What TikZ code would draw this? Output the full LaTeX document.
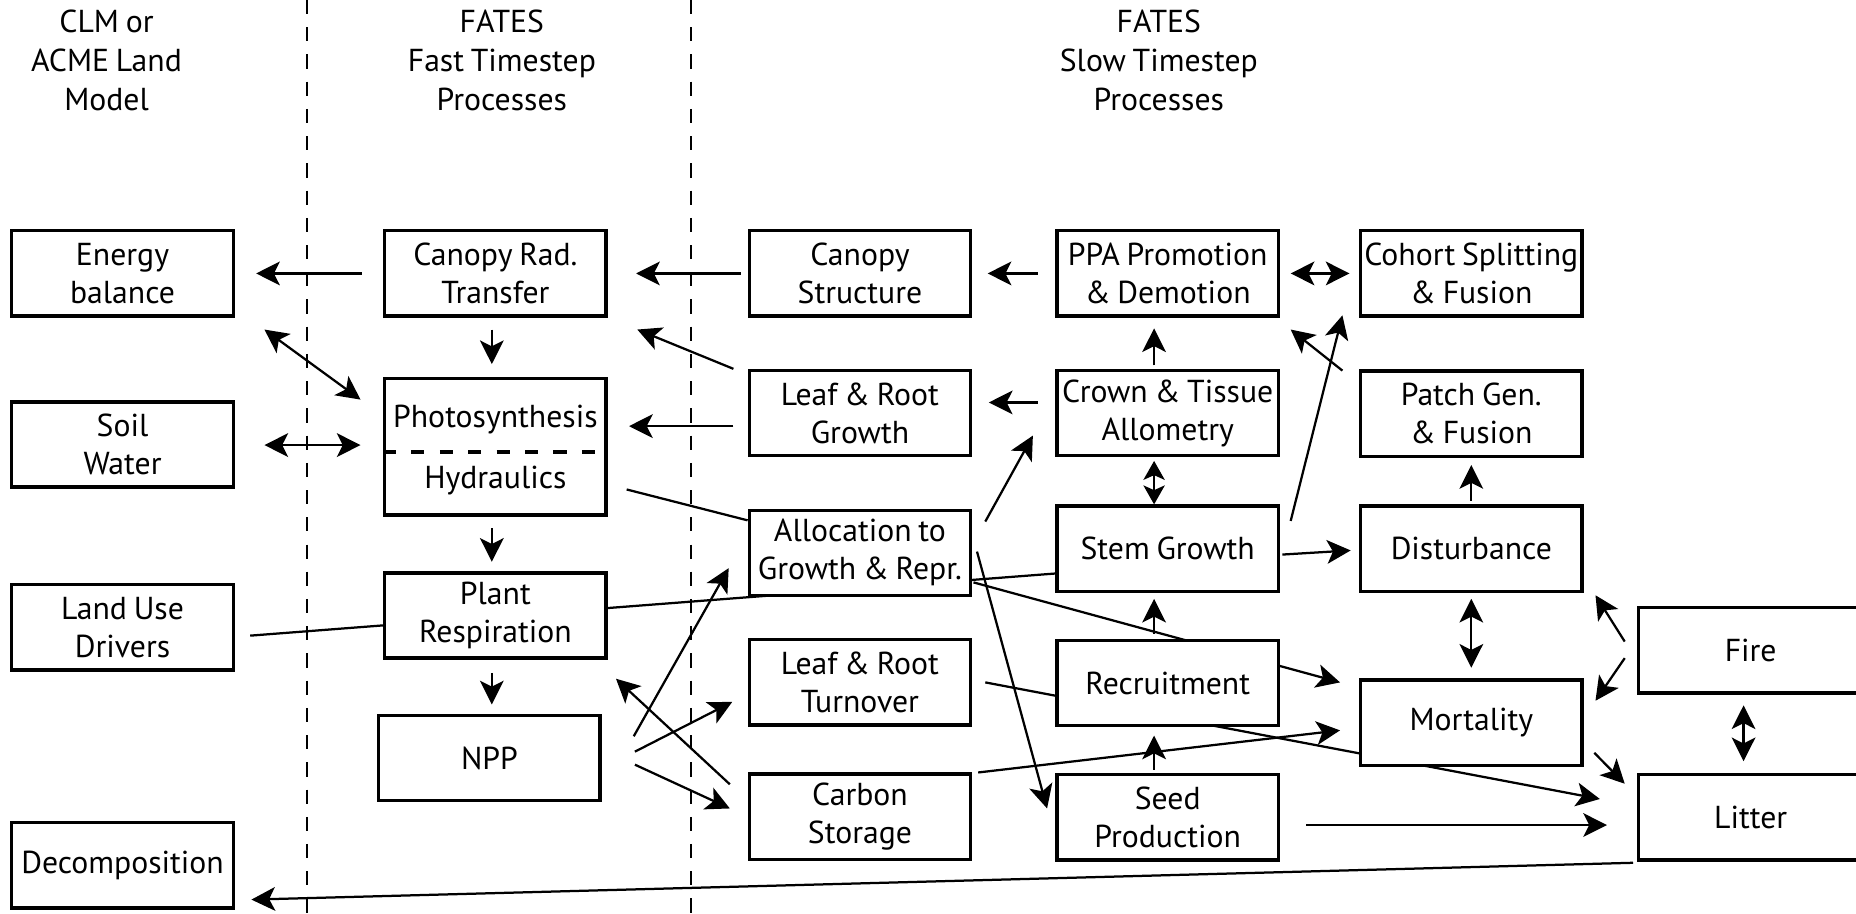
\documentclass[tikz,border=0pt]{standalone}
\usepackage{fontspec}
\setmainfont[WordSpace=0.8]{PT Sans}
\usetikzlibrary{arrows.meta,calc}
\pgfdeclarelayer{bg}
\pgfsetlayers{bg,main}

\begin{document}
\begin{tikzpicture}[x=1pt,y=-1pt,
  box/.style={draw, line width=2.8pt, fill=white, minimum width=187pt,
    minimum height=72pt, inner sep=0pt, align=center,
    font=\fontsize{26.8}{32}\selectfont},
  boxtext/.style={inner sep=0pt, font=\fontsize{26.8}{32}\selectfont},
  head/.style={align=center, inner sep=0pt, font=\fontsize{26.8}{33}\selectfont},
  tip/.tip={Stealth[length=20pt,width=20pt,inset=5pt]},
  smalltip/.tip={Stealth[length=16pt,width=18pt,inset=4pt]},
  arr/.style={line width=1.9pt, -tip},
  darr/.style={line width=1.9pt, tip-tip},
  sdarr/.style={line width=1.9pt, smalltip-smalltip},
  link/.style={line width=1.9pt},
  sep/.style={line width=1.7pt, dash pattern=on 12pt off 11pt},
  divider/.style={line width=3.2pt, dash pattern=on 11pt off 13pt}
]
\useasboundingbox (0,0) rectangle (1568,772);
\clip (0,0) rectangle (1568,772);

% column headings
\node[head] (hclm)  at (90,51)  {CLM or\\ACME Land\\Model};
\node[head] (hfast) at (424,51) {FATES\\Fast Timestep\\Processes};
\node[head] (hslow) at (979,51) {FATES\\Slow Timestep\\Processes};

% host land model
\node[box] (energy)  at (103.5,231)   {Energy\\balance};
\node[box] (soil)    at (103.5,375.5) {Soil\\Water};
\node[box] (landuse) at (103.5,530)   {Land Use\\Drivers};
\node[box] (decomp)  at (103.5,731)   {Decomposition};

% fast timestep processes
\node[box] (canrad) at (418.5,231) {Canopy Rad.\\Transfer};
\node[box, minimum height=115pt] (photo) at (418.5,377.5) {};
\node[boxtext] (photoA) at (418.5,354) {Photosynthesis};
\node[boxtext] (hydrB)  at (418.5,406) {Hydraulics};
\draw[divider] ($(photo.west)+(0,4.5)$) -- ($(photo.east)+(0,4.5)$);
\node[box] (plantresp) at (418.5,520)   {Plant\\Respiration};
\node[box] (npp)       at (413.5,640.5) {NPP};

% slow timestep processes
\node[box] (canstruct) at (726.5,231)   {Canopy\\Structure};
\node[box] (lrgrowth)  at (726.5,349)   {Leaf \& Root\\Growth};
\node[box] (alloc)     at (726.5,467)   {Allocation to\\Growth \& Repr.};
\node[box] (lrturn)    at (726.5,576.5) {Leaf \& Root\\Turnover};
\node[box] (cstore)    at (726.5,690)   {Carbon\\Storage};

\node[box] (ppa)     at (986.5,231)   {PPA Promotion\\\& Demotion};
\node[box] (crown)   at (986.5,349)   {Crown \& Tissue\\Allometry};
\node[box] (stem)    at (986.5,463.5) {Stem Growth};
\node[box] (recruit) at (986.5,577)   {Recruitment};
\node[box] (seed)    at (986.5,690.5) {Seed\\Production};

\node[box] (cohort)  at (1243,231)   {Cohort Splitting\\\& Fusion};
\node[box] (patch)   at (1243,349.5) {Patch Gen.\\\& Fusion};
\node[box] (disturb) at (1243,463.5) {Disturbance};
\node[box] (mort)    at (1243,610.5) {Mortality};

\node[box, minimum width=190pt] (fire)   at (1479,549.5) {Fire};
\node[box, minimum width=190pt] (litter) at (1479,690.5) {Litter};

\begin{pgfonlayer}{bg}
% separators between model components
\draw[sep] (259,0) -- (259,772);
\draw[sep] (584,0) -- (584,772);

% radiation and canopy
\draw[arr] ($(canrad.west)+(-18,0)$) -- ($(energy.east)+(18,0)$);
\draw[arr] ($(canstruct.west)+(-6,0)$) -- ($(canrad.east)+(24,0)$);
\draw[arr] ($(ppa.west)+(-15,0)$) -- ($(canstruct.east)+(13,0)$);
\draw[darr] ($(ppa.east)+(9,0)$) -- ($(cohort.west)+(-8,0)$);
\draw[darr] ($(energy.south east)+(25,10)$) -- ($(photo.north west)+(-19,19)$);
\draw[arr] ($(canrad.south)+(-3,10)$) -- ($(photo.north)+(-3,-11)$);
\draw[arr] ($(lrgrowth.north west)+(-12,0)$) -- ($(canrad.south east)+(25,10)$);
\draw[arr] ($(lrgrowth.west)+(-12,11)$) -- ($(photo.east)+(18,-17.5)$);
\draw[arr] ($(crown.west)+(-15,-9)$) -- ($(lrgrowth.east)+(14,-9)$);
\draw[arr] ($(crown.north)+(-11.5,-3)$) -- ($(ppa.south)+(-11.5,9)$);
\draw[darr] ($(soil.east)+(25,0.5)$) -- ($(photo.west)+(-19,-1.5)$);

% carbon flow
\draw[link] ($(photo.east)+(16,36)$) -- ($(alloc.north west)+(0,10)$);
\draw[arr] ($(alloc.north east)+(11,11)$) -- ($(crown.west)+(-19,19)$);
\draw[sdarr] ($(crown.south)+(-11.5,3)$) -- ($(stem.north)+(-11.5,0)$);
\draw[arr] ($(stem.north east)+(9,14)$) -- ($(cohort.south west)+(-14,-2)$);
\draw[arr] ($(patch.north west)+(-14,1)$) -- ($(ppa.south east)+(9,10)$);
\draw[arr] ($(disturb.north)+(0,-3)$) -- ($(patch.south)+(0,6)$);
\draw[arr] ($(stem.east)+(2,5)$) -- ($(disturb.west)+(-7,1.5)$);
\draw[link] ($(landuse.east)+(13,7)$) -- ($(stem.west)+(0,21)$);
\draw[arr] ($(alloc.east)+(1,25)$) -- ($(mort.west)+(-16,-34)$);
\draw[arr] ($(npp.east)+(27,-18.5)$) -- ($(alloc.west)+(-16,13)$);
\draw[arr] ($(npp.east)+(28,-5.5)$) -- ($(lrturn.west)+(-13,16.5)$);
\draw[arr] ($(npp.east)+(28,5.5)$) -- ($(cstore.west)+(-15,-7)$);
\draw[arr] ($(cstore.north west)+(-15,10)$) -- ($(plantresp.south east)+(7,16)$);
\draw[arr] ($(alloc.east)+(4,-1)$) -- ($(seed.west)+(-7,-7.5)$);
\draw[arr] ($(lrturn.east)+(11,0)$) -- ($(litter.west)+(-31,-15.5)$);
\draw[arr] ($(cstore.north east)+(5,0)$) -- ($(mort.west)+(-16,6.5)$);
\draw[arr] ($(seed.north)+(-11.5,-3)$) -- ($(recruit.south)+(-11.5,7)$);
\draw[arr] ($(recruit.north)+(-11.5,-4)$) -- ($(stem.south)+(-11.5,5)$);
\draw[arr] ($(seed.east)+(22,6.5)$) -- ($(litter.west)+(-25,6.5)$);
\draw[arr] ($(litter.south west)+(-3,1)$) -- ($(decomp.east)+(14,29)$);

% disturbance, fire and litter
\draw[darr] ($(disturb.south)+(0,5)$) -- ($(mort.north)+(0,-9)$);
\draw[arr] ($(fire.west)+(-10,-7.5)$) -- ($(disturb.south east)+(10,2)$);
\draw[arr] ($(fire.west)+(-10,6.5)$) -- ($(mort.east)+(10,-18.5)$);
\draw[arr] ($(mort.east)+(9,25.5)$) -- ($(litter.north west)+(-10,9)$);
\draw[darr] ($(fire.south)+(-6,9)$) -- ($(litter.north)+(-6,-10)$);

% fast-step chain
\draw[arr] ($(photo.south)+(-3,10)$) -- ($(plantresp.north)+(-3,-8)$);
\draw[arr] ($(plantresp.south)+(-3,11)$) -- ($(npp.north)+(2,-8)$);
\end{pgfonlayer}
\end{tikzpicture}
\end{document}
